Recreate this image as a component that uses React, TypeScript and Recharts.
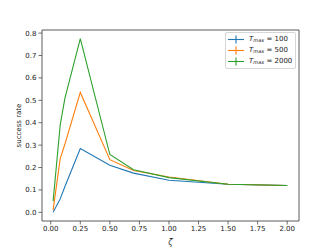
import React from "react";
import { LineChart, Line, XAxis, YAxis, ReferenceArea } from "recharts";

const zeta = [0.02, 0.08, 0.12, 0.25, 0.5, 0.7, 1.0, 1.5, 2.0];
const tmax100 = [0.0, 0.06, 0.115, 0.285, 0.21, 0.175, 0.143, 0.125, 0.12];
const tmax500 = [0.01, 0.24, 0.305, 0.535, 0.235, 0.187, 0.158, 0.125, 0.12];
const tmax2000 = [0.05, 0.39, 0.51, 0.775, 0.258, 0.19, 0.155, 0.125, 0.12];
const seriesLabels = ["100", "500", "2000"];
const colors = ["#1f77b4", "#ff7f0e", "#2ca02c"];
const xTicks = [0, 0.25, 0.5, 0.75, 1.0, 1.25, 1.5, 1.75, 2.0];
const yTicks = [0, 0.1, 0.2, 0.3, 0.4, 0.5, 0.6, 0.7, 0.8];

const data = zeta.map((z, i) => ({ z, a: tmax100[i], b: tmax500[i], c: tmax2000[i] }));

const X0 = -0.074;
const X1 = 2.1;
const Y0 = -0.0387;
const Y1 = 0.8138;

const font = "DejaVu Sans, sans-serif";

const LegendBox = () => (
  <div
    style={{
      position: "absolute",
      left: 225,
      top: 32,
      border: "1px solid #d6d6d6",
      borderRadius: 2,
      background: "rgba(255,255,255,0.8)",
      padding: "1px 3px 1px 2px",
      fontFamily: font,
      fontSize: 7,
      color: "#222",
      lineHeight: "11px",
    }}
  >
    {seriesLabels.map((s, i) => (
      <div key={s} style={{ display: "flex", alignItems: "center", height: 11 }}>
        <svg width={17} height={9} style={{ marginRight: 4 }}>
          <line x1={0} y1={4.5} x2={16} y2={4.5} stroke={colors[i]} strokeWidth={1.1} />
          <line x1={8} y1={0.5} x2={8} y2={8.5} stroke={colors[i]} strokeWidth={1.1} />
        </svg>
        <span>
          <i>T</i>
          <sub style={{ fontSize: 5, fontStyle: "italic", verticalAlign: "-1px" }}>max</sub>
          {" = " + s}
        </span>
      </div>
    ))}
  </div>
);

export default function App() {
  return (
    <div style={{ position: "absolute", left: 0, top: 0, width: 332, height: 249, background: "#fff" }}>
      <LineChart
        width={332}
        height={249}
        data={data}
        margin={{ top: 30, right: 33, bottom: 0, left: 0 }}
      >
        <XAxis
          dataKey="z"
          type="number"
          domain={[X0, X1]}
          ticks={xTicks}
          allowDataOverflow
          height={28}
          tickSize={3.5}
          tickMargin={1.5}
          tickFormatter={(v: number) => v.toFixed(2)}
          tick={{ fontSize: 7, fill: "#222", fontFamily: font }}
          axisLine={false}
          tickLine={{ stroke: "#333", strokeWidth: 0.7 }}
          label={{ value: "ζ", position: "insideBottom", offset: 4, fontSize: 8, fontStyle: "italic", fill: "#222", fontFamily: font }}
        />
        <YAxis
          type="number"
          domain={[Y0, Y1]}
          ticks={yTicks}
          allowDataOverflow
          width={42}
          tickSize={3.5}
          tickMargin={2}
          tickFormatter={(v: number) => v.toFixed(1)}
          tick={{ fontSize: 7, fill: "#222", fontFamily: font }}
          axisLine={false}
          tickLine={{ stroke: "#333", strokeWidth: 0.7 }}
          label={{ value: "success rate", angle: -90, position: "insideLeft", offset: 19, fontSize: 7, fill: "#222", fontFamily: font, style: { textAnchor: "middle" } }}
        />
        <ReferenceArea x1={X0} x2={X1} y1={Y0} y2={Y1} fill="none" stroke="#333" strokeWidth={0.8} fillOpacity={0} strokeOpacity={1} />
        <Line dataKey="a" stroke={colors[0]} strokeWidth={1.1} dot={false} isAnimationActive={false} />
        <Line dataKey="b" stroke={colors[1]} strokeWidth={1.1} dot={false} isAnimationActive={false} />
        <Line dataKey="c" stroke={colors[2]} strokeWidth={1.1} dot={false} isAnimationActive={false} />
      </LineChart>
      <LegendBox />
    </div>
  );
}
